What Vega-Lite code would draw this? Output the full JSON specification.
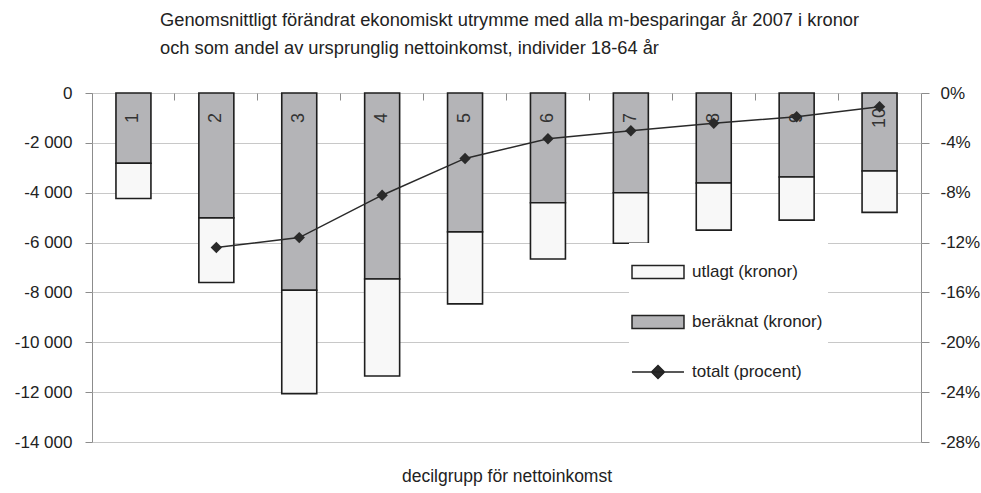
{
  "$schema": "https://vega.github.io/schema/vega-lite/v6.json",
  "width": 829,
  "height": 349,
  "autosize": {"type": "none"},
  "padding": {"left": 92, "top": 93, "right": 60, "bottom": 51},
  "config": {
    "font": "Liberation Sans",
    "view": {"stroke": "#8c8c8c", "strokeWidth": 1},
    "axis": {"labelFont": "Liberation Sans", "titleFont": "Liberation Sans", "labelColor": "#222", "titleColor": "#222", "labelFontSize": 17, "titleFontWeight": "normal"}
  },
  "title": {
    "text": ["Genomsnittligt förändrat ekonomiskt utrymme med alla m-besparingar år 2007 i kronor", "och som andel av ursprunglig nettoinkomst, individer 18-64 år"],
    "anchor": "start", "frame": "group", "dx": 68, "fontSize": 18.3, "fontWeight": "normal", "color": "#222", "lineHeight": 28, "offset": 26, "font": "Liberation Sans"
  },
  "datasets": {
    "kronor": [
      {"decil": 1, "serie": "beräknat (kronor)", "kronor": -2820},
      {"decil": 1, "serie": "utlagt (kronor)", "kronor": -1410},
      {"decil": 2, "serie": "beräknat (kronor)", "kronor": -5010},
      {"decil": 2, "serie": "utlagt (kronor)", "kronor": -2590},
      {"decil": 3, "serie": "beräknat (kronor)", "kronor": -7910},
      {"decil": 3, "serie": "utlagt (kronor)", "kronor": -4150},
      {"decil": 4, "serie": "beräknat (kronor)", "kronor": -7460},
      {"decil": 4, "serie": "utlagt (kronor)", "kronor": -3890},
      {"decil": 5, "serie": "beräknat (kronor)", "kronor": -5570},
      {"decil": 5, "serie": "utlagt (kronor)", "kronor": -2890},
      {"decil": 6, "serie": "beräknat (kronor)", "kronor": -4400},
      {"decil": 6, "serie": "utlagt (kronor)", "kronor": -2260},
      {"decil": 7, "serie": "beräknat (kronor)", "kronor": -4000},
      {"decil": 7, "serie": "utlagt (kronor)", "kronor": -2030},
      {"decil": 8, "serie": "beräknat (kronor)", "kronor": -3610},
      {"decil": 8, "serie": "utlagt (kronor)", "kronor": -1890},
      {"decil": 9, "serie": "beräknat (kronor)", "kronor": -3370},
      {"decil": 9, "serie": "utlagt (kronor)", "kronor": -1730},
      {"decil": 10, "serie": "beräknat (kronor)", "kronor": -3130},
      {"decil": 10, "serie": "utlagt (kronor)", "kronor": -1660}
    ],
    "procent": [
      {"decil": 1, "procent": null},
      {"decil": 2, "procent": -12.4},
      {"decil": 3, "procent": -11.6},
      {"decil": 4, "procent": -8.2},
      {"decil": 5, "procent": -5.25},
      {"decil": 6, "procent": -3.67},
      {"decil": 7, "procent": -3.03},
      {"decil": 8, "procent": -2.43},
      {"decil": 9, "procent": -1.9},
      {"decil": 10, "procent": -1.1}
    ]
  },
  "layer": [
    {
      "data": {"name": "kronor"},
      "encoding": {
        "x": {"field": "decil", "type": "ordinal", "scale": {"type": "band", "paddingInner": 0.578, "paddingOuter": 0.289},
          "axis": {"orient": "bottom", "labels": false, "ticks": false, "domain": false, "title": "decilgrupp för nettoinkomst", "titleFontSize": 17.5, "titlePadding": 25}}
      },
      "layer": [
        {
          "mark": {"type": "bar", "stroke": "#1e1e1e", "strokeWidth": 1.6},
          "encoding": {
            "y": {"field": "kronor", "type": "quantitative", "stack": "zero",
              "scale": {"domain": [-14000, 0], "nice": false},
              "axis": {"orient": "left", "title": null, "values": [-14000, -12000, -10000, -8000, -6000, -4000, -2000, 0], "domain": false, "tickColor": "#8c8c8c", "tickSize": 7, "labelPadding": 13, "gridColor": "#c8c8c8", "grid": true,
                "labelExpr": "replace(replace(format(datum.value, ','), ',', ' '), '\u2212', '-')"}},
            "fill": {"field": "serie", "type": "nominal", "scale": {"domain": ["utlagt (kronor)", "beräknat (kronor)"], "range": ["#f8f8f8", "#b4b4b7"]}, "legend": null},
            "order": {"field": "serie", "sort": "ascending"}
          }
        },
        {
          "transform": [{"filter": "datum.serie == 'beräknat (kronor)'"}],
          "mark": {"type": "text", "angle": 270, "align": "center", "baseline": "middle", "fontSize": 18, "color": "#333", "font": "Liberation Sans"},
          "encoding": {
            "y": {"datum": -1000, "type": "quantitative"},
            "text": {"field": "decil", "type": "nominal"}
          }
        },
        {
          "mark": {"type": "point", "filled": true, "opacity": 0, "stroke": "#222", "strokeWidth": 1.5},
          "encoding": {
            "y": {"field": "kronor", "type": "quantitative"},
            "color": {"field": "serie", "type": "nominal",
              "scale": {"domain": ["utlagt (kronor)", "beräknat (kronor)", "totalt (procent)"], "range": ["#f8f8f8", "#b4b4b7", "#2a2a2a"]},
              "legend": {"orient": "none", "legendX": 537, "legendY": 150, "title": null, "symbolSize": 2116, "symbolStrokeColor": "#222", "symbolStrokeWidth": 1.5, "symbolOpacity": 1, "labelFontSize": 17, "labelFont": "Liberation Sans", "labelColor": "#222", "labelOffset": 10, "rowPadding": 16, "fillColor": "white", "padding": 5,
                "encode": {"symbols": {"update": {"stroke": {"value": "#222"}, "strokeWidth": {"value": 1.5}, "strokeOpacity": {"value": 1}, "opacity": {"value": 1}}}}}},
            "shape": {"field": "serie", "type": "nominal",
              "scale": {"domain": ["utlagt (kronor)", "beräknat (kronor)", "totalt (procent)"], "range": ["M-1.13,-0.28H1.13V0.28H-1.13Z", "M-1.13,-0.28H1.13V0.28H-1.13Z", "M-1.13,0H1.13M0,-0.28L0.28,0L0,0.28L-0.28,0Z"]},
              "legend": {"orient": "none", "legendX": 537, "legendY": 150, "title": null, "symbolSize": 2116, "symbolStrokeColor": "#222", "symbolStrokeWidth": 1.5, "symbolOpacity": 1, "labelFontSize": 17, "labelFont": "Liberation Sans", "labelColor": "#222", "labelOffset": 10, "rowPadding": 16, "fillColor": "white", "padding": 5,
                "encode": {"symbols": {"update": {"stroke": {"value": "#222"}, "strokeWidth": {"value": 1.5}, "strokeOpacity": {"value": 1}, "opacity": {"value": 1}}}}}}
          }
        }
      ]
    },
    {
      "data": {"name": "procent"},
      "transform": [{"filter": "datum.procent != null"}],
      "encoding": {
        "x": {"field": "decil", "type": "ordinal", "scale": {"type": "band", "paddingInner": 0, "paddingOuter": 0, "domain": [1, 2, 3, 4, 5, 6, 7, 8, 9, 10]},
          "axis": {"orient": "top", "labels": false, "domain": false, "title": null, "ticks": true, "bandPosition": 0, "tickSize": -7, "tickWidth": 1, "tickOpacity": 1, "tickColor": "#8c8c8c"}},
        "y": {"field": "procent", "type": "quantitative", "scale": {"domain": [-28, 0], "nice": false},
          "axis": {"orient": "right", "title": null, "values": [-28, -24, -20, -16, -12, -8, -4, 0], "domain": false, "grid": false, "tickColor": "#8c8c8c", "tickSize": 8, "labelPadding": 11,
            "labelExpr": "replace(format(datum.value, 'd'), '\u2212', '-') + '%'"}}
      },
      "layer": [
        {"mark": {"type": "line", "color": "#2a2a2a", "strokeWidth": 1.5}},
        {"mark": {"type": "point", "shape": "diamond", "filled": true, "color": "#2a2a2a", "size": 130, "opacity": 1}}
      ]
    }
  ],
  "resolve": {"scale": {"y": "independent", "x": "independent"}, "axis": {"x": "independent"}}
}
